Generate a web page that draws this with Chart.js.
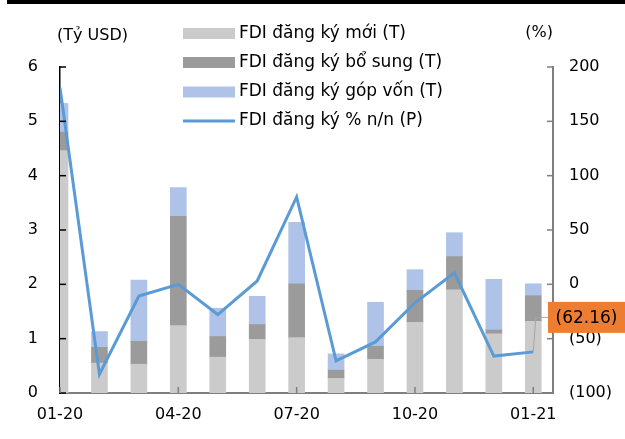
<!DOCTYPE html>
<html>
<head>
<meta charset="utf-8">
<script src="https://cdn.jsdelivr.net/npm/chart.js@4.4.1/dist/chart.umd.min.js"></script>
<style>
  html, body { margin: 0; padding: 0; background: #fff; }
  #wrap { position: relative; width: 625px; height: 439px; }
  #topRule { position: absolute; left: 7px; right: 0; top: 0; height: 4px; background: #000; }
</style>
</head>
<body>
<div id="wrap">
  <canvas id="fdiChart" width="625" height="439"></canvas>
  <div id="topRule"></div>
</div>
<script>
// months 01-20 .. 01-21, values in bn USD (bars) and % y/y (line)
const months = ['01-20', '02-20', '03-20', '04-20', '05-20', '06-20', '07-20',
                '08-20', '09-20', '10-20', '11-20', '12-20', '01-21'];
const newReg     = [4.46, 0.55, 0.53, 1.24, 0.66, 0.99, 1.02, 0.27, 0.62, 1.30, 1.90, 1.09, 1.32];
const addReg     = [0.34, 0.29, 0.42, 2.01, 0.38, 0.27, 0.99, 0.15, 0.24, 0.59, 0.61, 0.07, 0.47];
const contribReg = [0.53, 0.29, 1.13, 0.53, 0.52, 0.52, 1.13, 0.30, 0.81, 0.38, 0.44, 0.93, 0.22];
const yoyPct     = [181, -82.7, -10.7, 0, -27.8, 3.1, 80.4, -70.5, -53, -17, 10.5, -66, -62.16];

const xTickIdx = [0, 3, 6, 9, 12];
const leftTicks = [0, 1, 2, 3, 4, 5, 6];
const rightTicks = [-100, -50, 0, 50, 100, 150, 200];

const seriesLabels = ['FDI đăng ký mới (T)', 'FDI đăng ký bổ sung (T)',
                      'FDI đăng ký góp vốn (T)', 'FDI đăng ký % n/n (P)'];
const colors = ['#cbcbcb', '#9b9b9b', '#aec3e7', '#5b9bd5'];

const FONT = 'DejaVu Sans';
const pts = arr => arr.map((v, i) => ({ x: i, y: v }));
const fmtPct = v => v < 0 ? `(${-v})` : `${v}`;

const barDs = (i, vals) => ({
  type: 'bar',
  label: seriesLabels[i],
  data: pts(vals),
  backgroundColor: colors[i],
  barThickness: 16,
  yAxisID: 'y',
  order: 1,
  clip: 0
});

const decor = {
  id: 'decor',
  afterDraw(chart) {
    const { ctx, chartArea: a, scales } = chart;
    ctx.save();
    const seg = (x1, y1, x2, y2) => { ctx.beginPath(); ctx.moveTo(x1, y1); ctx.lineTo(x2, y2); ctx.stroke(); };

    // inward tick marks
    ctx.lineWidth = 1.5;
    ctx.strokeStyle = '#000';
    scales.y.ticks.forEach(t => { const p = scales.y.getPixelForValue(t.value); seg(a.left, p, a.left + 6, p); });
    ctx.strokeStyle = '#7f7f7f';
    scales.y1.ticks.forEach(t => { const p = scales.y1.getPixelForValue(t.value); seg(a.right - 6, p, a.right, p); });
    scales.x.ticks.forEach(t => { const p = scales.x.getPixelForValue(t.value); seg(p, a.bottom - 6, p, a.bottom); });

    // axis unit titles
    ctx.fillStyle = '#000';
    ctx.font = `16px "${FONT}"`;
    ctx.textBaseline = 'middle';
    ctx.textAlign = 'left';
    ctx.fillText('(Tỷ USD)', a.left - 3, 36);
    ctx.textAlign = 'right';
    ctx.fillText('(%)', a.right, 33);

    // legend
    const rows = [33.5, 62.5, 92, 121];
    ctx.font = `17px "${FONT}"`;
    ctx.textAlign = 'left';
    chart.data.datasets.forEach((ds, i) => {
      const y = rows[i];
      if (ds.type === 'line') {
        ctx.strokeStyle = ds.borderColor;
        ctx.lineWidth = 3;
        seg(183, y, 235, y);
      } else {
        ctx.fillStyle = ds.backgroundColor;
        ctx.fillRect(183, y - 5.5, 52, 11);
      }
      ctx.fillStyle = '#000';
      ctx.fillText(ds.label, 239, y);
    });

    // last-point data label
    const meta = chart.getDatasetMeta(3);
    const last = meta.data[meta.data.length - 1];
    const boxL = a.right - 5, boxT = last.y - 50, boxH = 31;
    ctx.strokeStyle = '#a6a6a6';
    ctx.lineWidth = 1;
    ctx.beginPath();
    ctx.moveTo(last.x, last.y);
    ctx.lineTo(last.x + 2.5, boxT + boxH / 2);
    ctx.lineTo(boxL, boxT + boxH / 2);
    ctx.stroke();
    ctx.fillStyle = '#ed7d31';
    ctx.fillRect(boxL, boxT, 90, boxH);
    ctx.fillStyle = '#000';
    ctx.font = `17px "${FONT}"`;
    ctx.textAlign = 'center';
    ctx.fillText(fmtPct(yoyPct[yoyPct.length - 1]), boxL + 38.5, boxT + boxH / 2 + 1);
    ctx.restore();
  }
};

new Chart(document.getElementById('fdiChart'), {
  data: {
    datasets: [
      barDs(0, newReg),
      barDs(1, addReg),
      barDs(2, contribReg),
      {
        type: 'line',
        label: seriesLabels[3],
        data: pts(yoyPct),
        borderColor: colors[3],
        backgroundColor: colors[3],
        borderWidth: 3,
        pointRadius: 0,
        tension: 0,
        yAxisID: 'y1',
        order: 0
      }
    ]
  },
  options: {
    responsive: false,
    animation: false,
    devicePixelRatio: 1,
    layout: { padding: { top: 67, left: 0, right: 0, bottom: 0 } },
    plugins: { legend: { display: false }, tooltip: { enabled: false } },
    scales: {
      x: {
        type: 'linear',
        stacked: true,
        offset: false,
        min: 0,
        max: 12.5,
        afterBuildTicks: s => { s.ticks = xTickIdx.map(v => ({ value: v })); },
        afterFit: s => { s.height = 46; },
        grid: { display: false, drawTicks: false },
        border: { display: true, color: '#7f7f7f', width: 2 },
        ticks: {
          padding: 12,
          color: '#000',
          maxRotation: 0,
          font: { family: FONT, size: 16 },
          callback: v => months[v]
        }
      },
      y: {
        position: 'left',
        stacked: true,
        min: 0,
        max: 6,
        afterBuildTicks: s => { s.ticks = leftTicks.map(v => ({ value: v })); },
        afterFit: s => { s.width = 60; },
        grid: { display: false, drawTicks: false },
        border: { display: true, color: '#000', width: 1.5 },
        ticks: { padding: 22, color: '#000', font: { family: FONT, size: 16 } }
      },
      y1: {
        position: 'right',
        min: -100,
        max: 200,
        afterBuildTicks: s => { s.ticks = rightTicks.map(v => ({ value: v })); },
        afterFit: s => { s.width = 72; },
        grid: { display: false, drawTicks: false },
        border: { display: true, color: '#7f7f7f', width: 2 },
        ticks: { padding: 16, color: '#000', font: { family: FONT, size: 16 }, callback: v => fmtPct(v) }
      }
    }
  },
  plugins: [decor]
});
</script>
</body>
</html>
